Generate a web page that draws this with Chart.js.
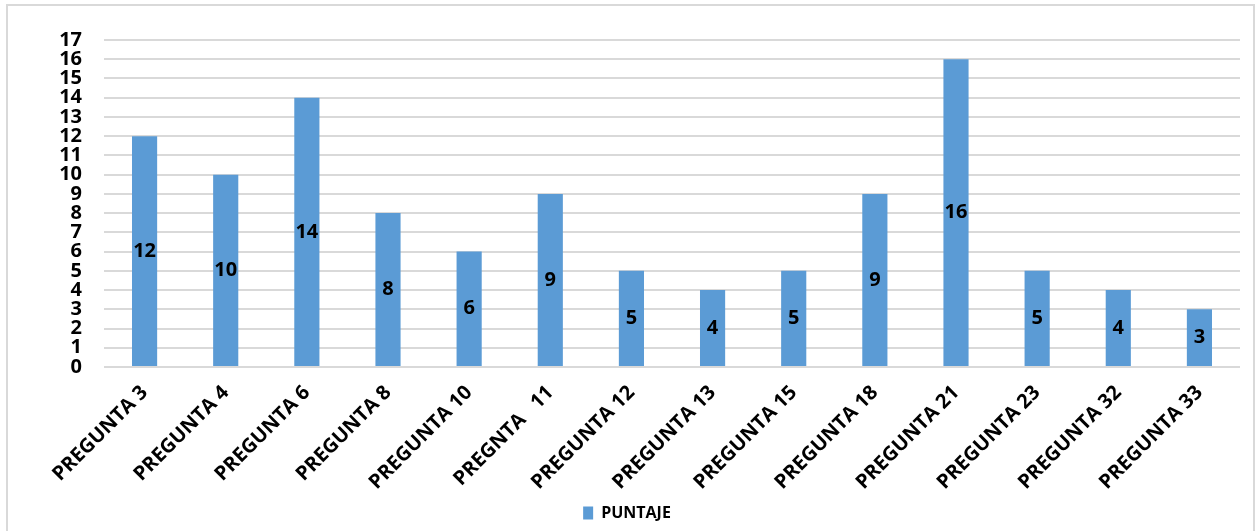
<!DOCTYPE html>
<html>
<head>
<meta charset="utf-8">
<script src="https://cdn.jsdelivr.net/npm/chart.js@4.4.1/dist/chart.umd.min.js"></script>
<style>
  body { margin: 0; background: #fff; overflow: hidden; }
  #frame {
    position: absolute; left: 6px; top: 4px;
    width: 1245px; height: 540px;
    border: 2px solid #d9d9d9; background: #fff;
  }
  #box { position: absolute; left: 0; top: 0; width: 1241px; height: 525px; }
</style>
</head>
<body>
<div id="frame"><div id="box"><canvas id="puntajeChart"></canvas></div></div>
<script>
// Chart data
const preguntas = ["PREGUNTA 3", "PREGUNTA 4", "PREGUNTA 6", "PREGUNTA 8", "PREGUNTA 10", "PREGNTA   11",
    "PREGUNTA 12", "PREGUNTA 13", "PREGUNTA 15", "PREGUNTA 18", "PREGUNTA 21", "PREGUNTA 23",
    "PREGUNTA 32", "PREGUNTA 33"];
const puntaje = [12, 10, 14, 8, 6, 9, 5, 4, 5, 9, 16, 5, 4, 3];
const yMin = 0, yMax = 17, yStep = 1;

const FONT = "'Open Sans'";

// Draw the value in the middle of each bar
const barValues = {
    id: "barValues",
    afterDatasetsDraw(chart) {
        const ctx = chart.ctx;
        ctx.save();
        ctx.font = "bold 20px " + FONT;
        ctx.fillStyle = "#000";
        ctx.textAlign = "center";
        ctx.textBaseline = "middle";
        chart.getDatasetMeta(0).data.forEach((bar, i) => {
            ctx.fillText(String(puntaje[i]), bar.x, (bar.y + bar.base) / 2);
        });
        ctx.restore();
    }
};

function drawChart() {
    const ctx = document.getElementById("puntajeChart").getContext("2d");
    new Chart(ctx, {
        type: "bar",
        data: {
            labels: preguntas,
            datasets: [{
                label: "PUNTAJE",
                data: puntaje,
                backgroundColor: "#5b9bd5",
                barPercentage: 0.31,
                categoryPercentage: 1
            }]
        },
        options: {
            responsive: true,
            maintainAspectRatio: false,
            animation: false,
            layout: { padding: { top: 30, right: 9, left: 6, bottom: 0 } },
            plugins: {
                tooltip: { enabled: false },
                legend: {
                    position: "bottom",
                    labels: {
                        boxWidth: 10,
                        boxHeight: 13,
                        padding: 10,
                        color: "#000",
                        font: { family: FONT, size: 16, weight: "bold" }
                    }
                }
            },
            scales: {
                x: {
                    grid: { display: false, drawTicks: false },
                    border: { display: false },
                    ticks: {
                        autoSkip: false,
                        maxRotation: 45,
                        minRotation: 45,
                        padding: 14,
                        color: "#000",
                        font: { family: FONT, size: 20, weight: "bold" }
                    },
                    afterFit: s => { s.height = 128; }
                },
                y: {
                    min: yMin,
                    max: yMax,
                    grid: { color: "#d9d9d9", lineWidth: 2, drawTicks: false },
                    border: { display: false },
                    ticks: {
                        stepSize: yStep,
                        autoSkip: false,
                        padding: 22,
                        color: "#000",
                        font: { family: FONT, size: 20, weight: "bold" }
                    },
                    afterFit: s => { s.width = 90; }
                }
            }
        },
        plugins: [barValues]
    });
}

// Make sure the bold face is ready before the canvas draws text
Promise.all([
    document.fonts.load("bold 20px 'Open Sans'"),
    document.fonts.load("bold 16px 'Open Sans'")
]).then(drawChart, drawChart);
</script>
</body>
</html>
